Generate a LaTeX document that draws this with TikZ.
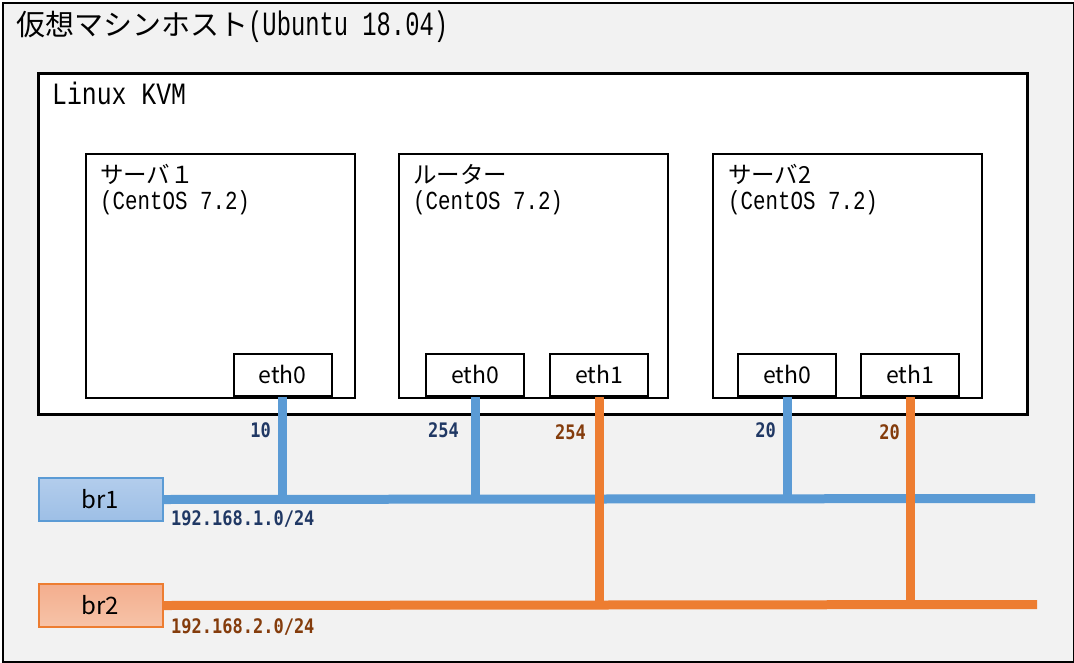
\documentclass[tikz,border=0pt]{standalone}
\usepackage{fontspec}
\setmainfont{Noto Sans CJK JP}
\newfontfamily\jp{Noto Sans CJK JP}
\newfontfamily\mon[FakeStretch=0.8]{Liberation Mono}
\newfontfamily\monT[FakeStretch=0.7]{Liberation Mono}
\newfontfamily\numf[FakeStretch=0.85]{DejaVu Sans Mono}
\newcommand{\myfs}[1]{\fontsize{#1pt}{#1pt}\selectfont}
\definecolor{bl}{HTML}{5B9BD5}
\definecolor{orl}{HTML}{ED7D31}
\definecolor{bltx}{HTML}{203864}
\definecolor{ortx}{HTML}{843C0C}
\definecolor{bgc}{HTML}{F2F2F2}
\definecolor{brAtop}{HTML}{B3CDEC}
\definecolor{brAbot}{HTML}{9DBFE6}
\definecolor{brBtop}{HTML}{F3AE8E}
\definecolor{brBbot}{HTML}{F7C3A8}
\tikzset{
  frame/.style={draw=black, line width=2.5pt, anchor=north west, inner sep=0pt},
  vmbox/.style={draw=black, fill=white, line width=2pt, anchor=north west, inner sep=0pt, minimum width=269pt, minimum height=244pt},
  ethbox/.style={draw=black, fill=white, line width=2pt, anchor=south, inner sep=0pt, minimum width=98pt, minimum height=42.5pt, font=\myfs{23}},
  brbox/.style={line width=2pt, anchor=north west, inner sep=0pt, minimum width=124pt, minimum height=43pt, font=\myfs{24}},
  vmtext/.style={anchor=north west, inner sep=0pt, align=left, font=\myfs{26}},
  bline/.style={draw=bl, line width=9pt},
  oline/.style={draw=orl, line width=9pt},
  blbl/.style={text=bltx, inner sep=0pt, anchor=base east, font=\numf\bfseries\myfs{20}},
  olbl/.style={text=ortx, inner sep=0pt, anchor=base east, font=\numf\bfseries\myfs{20}},
}
\begin{document}
\begin{tikzpicture}[x=1pt, y=-1pt]
\useasboundingbox (0,0) rectangle (1074,662);
% outer host
\node[frame, fill=bgc, minimum width=1071pt, minimum height=659pt] (host) at (1.5,1.5) {};
\node[anchor=base west, inner sep=0pt] (hosttxt) at (16,35) {{\jp\myfs{29}仮想マシンホスト}{\monT\myfs{34}(Ubuntu 18.04)}};
% KVM
\node[frame, fill=white, minimum width=989pt, minimum height=341pt] (kvm) at (37,72) {};
\node[anchor=base west, inner sep=0pt, font=\mon\myfs{31}] (kvmtxt) at (52,104) {Linux KVM};
% VMs
\node[vmbox] (s1) at (85,153) {};
\node[vmbox] (rt) at (397.5,153) {};
\node[vmbox] (s2) at (711.5,153) {};
\node[vmtext] (s1t) at (100,164) {{\jp\myfs{23.5}サーバ１}\\{\mon(CentOS 7.2)}};
\node[vmtext] (rtt) at (413,164) {{\jp\myfs{23.5}ルーター}\\{\mon(CentOS 7.2)}};
\node[vmtext] (s2t) at (728,164) {{\jp\myfs{23.5}サーバ2}\\{\mon(CentOS 7.2)}};
% eth boxes
\node[ethbox] (s1e0) at (282.5,397) {eth0};
\node[ethbox] (rte0) at (475,397) {eth0};
\node[ethbox] (rte1) at (599,397) {eth1};
\node[ethbox] (s2e0) at (787,397) {eth0};
\node[ethbox] (s2e1) at (910,397) {eth1};
% bridges
\node[brbox, draw=bl, top color=brAtop, bottom color=brAbot] (br1) at (37.5,477) {br1};
\node[brbox, draw=orl, top color=brBtop, bottom color=brBbot] (br2) at (37.5,583) {br2};
\coordinate (br1end) at (1035,498.5);
\coordinate (br2end) at (1037,604.5);
% blue network
\draw[bline] (br1.east) -- (br1end);
\draw[bline] (s1e0.south) -- (s1e0.south |- br1.east);
\draw[bline] (rte0.south) -- (rte0.south |- br1.east);
\draw[bline] (s2e0.south) -- (s2e0.south |- br1.east);
% orange network
\draw[oline] (br2.east) -- (br2end);
\draw[oline] (rte1.south) -- (rte1.south |- br2.east);
\draw[oline] (s2e1.south) -- (s2e1.south |- br2.east);
% address labels
\node[blbl] (l1) at (271,437) {10};
\node[blbl] (l2) at (459,437) {254};
\node[olbl] (l3) at (586,439) {254};
\node[blbl] (l4) at (776,437) {20};
\node[olbl] (l5) at (900,439) {20};
\node[blbl, anchor=base west] (n1) at (171,525) {192.168.1.0/24};
\node[olbl, anchor=base west] (n2) at (171,633) {192.168.2.0/24};
\end{tikzpicture}
\end{document}
